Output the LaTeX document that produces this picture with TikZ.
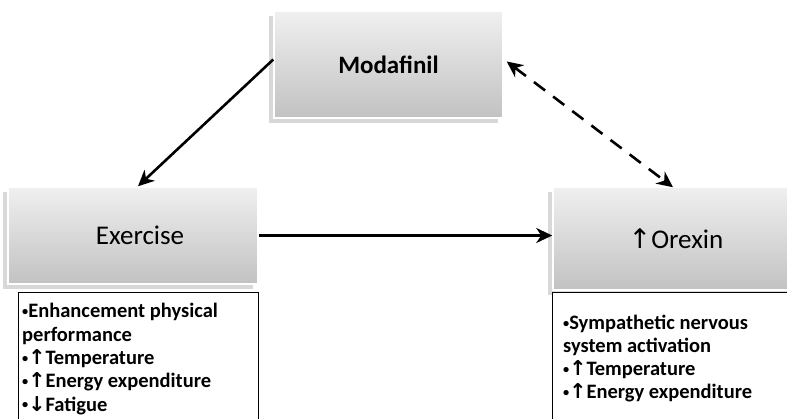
\documentclass[tikz,border=0pt]{standalone}
\usepackage{fontspec}
\setmainfont{Carlito}
\newfontfamily\arrfont{DejaVu Sans}
\usetikzlibrary{arrows.meta,shadows}
\newcommand{\up}{{\arrfont\char"2191}}
\newcommand{\down}{{\arrfont\char"2193}}
\newcommand{\bul}{\raisebox{0.12em}{\scalebox{0.6}{\textbullet}}}
\tikzset{
  graybox/.style={rectangle, draw=white, line width=1.5pt, top color=gray!12, bottom color=gray!48,
    drop shadow={shadow xshift=-5pt, shadow yshift=-5pt, opacity=0.3, fill=gray}, inner sep=0pt},
  listbox/.style={rectangle, draw=black, line width=1.4pt, fill=white, inner sep=0pt},
  ltext/.style={anchor=base west, inner sep=0pt,
    font=\fontsize{20.5}{23}\selectfont\bfseries},
  conn/.style={line width=2.6pt, black, -{Stealth[length=16pt,width=15pt,inset=5pt]}},
  dconn/.style={line width=2.6pt, black, dash pattern=on 14pt off 10pt,
    {Stealth[length=16pt,width=15pt,inset=5pt]}-{Stealth[length=16pt,width=15pt,inset=5pt]}}
}
\begin{document}
\begin{tikzpicture}[x=1pt,y=-1pt]
\useasboundingbox (0,0) rectangle (787,419);
\fill[white] (0,0) rectangle (787,419);
% main boxes
\node[graybox, minimum width=229pt, minimum height=107pt, font=\fontsize{25}{30}\selectfont\bfseries] (moda) at (388.5,64.5) {Modafinil};
\node[graybox, minimum width=250pt, minimum height=97pt, font=\fontsize{27}{32}\selectfont] (ex) at (133,235.5) {\hspace*{14pt}Exercise};
\node[graybox, minimum width=240pt, minimum height=103pt, font=\fontsize{27}{32}\selectfont] (ore) at (673,238.5) {\hspace*{6pt}\up Orexin};
% list boxes
\node[listbox, minimum width=240pt, minimum height=140pt, anchor=north west] (exl) at (18,292) {};
\node[listbox, minimum width=250pt, minimum height=140pt, anchor=north west] (orl) at (552,292) {};
% exercise list
\node[ltext] (e1) at (22,318) {\bul Enhancement physical};
\node[ltext] (e2) at (22,341.5) {performance};
\node[ltext] (e3) at (22,364.5) {\bul\up Temperature};
\node[ltext] (e4) at (22,388) {\bul\up Energy expenditure};
\node[ltext] (e5) at (22,411) {\bul\down Fatigue};
% orexin list
\node[ltext] (o1) at (563,330) {\bul Sympathetic nervous};
\node[ltext] (o2) at (563,353) {system activation};
\node[ltext] (o3) at (563,376) {\bul\up Temperature};
\node[ltext] (o4) at (563,399) {\bul\up Energy expenditure};
% connectors
\draw[conn] ([yshift=5pt]moda.west) -- ([xshift=5pt]ex.north);
\draw[conn] (ex.east) -- (ex.east -| ore.west);
\draw[dconn] ([xshift=3pt,yshift=3pt]moda.east) -- ([yshift=-1pt]ore.north);
\end{tikzpicture}
\end{document}
